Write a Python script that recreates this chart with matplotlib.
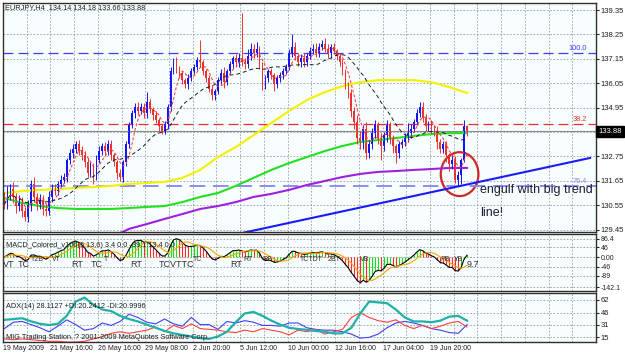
import numpy as np
import pandas as pd
import matplotlib
matplotlib.use('Agg')
import matplotlib.pyplot as plt
import matplotlib.transforms as mtransforms
from matplotlib.patches import Ellipse

plt.rcParams['font.family'] = ['Liberation Sans', 'DejaVu Sans']

# EURJPY H4 closes, one per bar
closes = [
    130.6, 131.1, 131.3, 130.9, 130.5, 130.7, 130.3, 130.0,
    130.6, 131.5, 130.9, 130.6, 130.8, 130.4, 130.3, 130.9,
    131.3, 131.2, 131.5, 131.7, 131.8, 132.6, 132.9, 133.1,
    133.3, 133.0, 132.8, 132.5, 132.0, 132.3, 131.9, 132.6,
    133.0, 133.2, 133.0, 133.3, 132.8, 132.5, 132.0, 131.8,
    132.5, 133.3, 134.2, 134.7, 135.0, 134.8, 135.0, 134.7,
    135.2, 134.9, 134.6, 134.4, 134.1, 133.9, 134.2, 135.0,
    136.6, 137.0, 136.7, 136.5, 136.2, 136.0, 136.3, 136.6,
    136.8, 137.1, 137.0, 136.6, 136.3, 135.8, 135.5, 135.7,
    136.2, 136.5, 136.1, 136.6, 136.9, 137.2, 137.0, 137.2,
    137.0, 136.9, 137.3, 137.6, 137.4, 137.6, 136.9, 136.0,
    136.3, 136.6, 136.4, 136.0, 136.3, 136.4, 136.6, 136.8,
    137.4, 137.7, 137.3, 137.0, 137.2, 137.0, 137.3, 137.5,
    137.6, 137.4, 137.7, 137.8, 137.6, 137.4, 137.7, 137.5,
    137.3, 137.0, 136.6, 136.0, 135.6, 134.8, 134.3, 133.6,
    133.4, 134.0, 132.9, 133.3, 133.8, 134.2, 133.6, 133.2,
    133.7, 134.2, 133.6, 133.2, 132.9, 133.3, 133.4, 133.6,
    133.8, 134.0, 134.3, 134.7, 135.0, 134.5, 134.1, 134.2,
    134.0, 133.9, 133.4, 133.1, 133.3, 132.8, 132.4, 132.6,
    131.7, 131.9, 132.6, 134.14, 133.88]
first_open = 130.9

up_wick = [
    .25, .3, .2, .3, .2, .3, .2, .15,
    .2, .2, .3, .2, .25, .2, .2, .3,
    .2, .2, .15, .2, .2, .1, .2, .2,
    .15, .2, .2, .2, .2, .2, .15, .2,
    .2, .15, .2, .2, .2, .1, .1, .2,
    .1, .15, .1, .15, .15, .2, .15, .15,
    .45, .15, .1, .2, .1, .1, .15, .1,
    .2, .2, .25, .15, .1, .1, .15, .15,
    .1, .15, .9, .1, .1, .1, .15, .1,
    .15, .2, .3, .1, .15, .1, .15, .2,
    2.0, .2, .3, .25, .2, .3, .15, .1,
    .1, .1, .15, .1, .1, .15, .15, .1,
    .2, .55, .2, .1, .15, .2, .1, .2,
    .2, .25, .15, .2, .3, .2, .1, .15,
    .1, .1, .15, .1, .1, .2, .2, .3,
    .3, .15, .3, .2, .25, .2, .1, .2,
    .15, .2, .1, .1, .1, .15, .15, .2,
    .45, .2, .15, .2, .2, .2, .15, .15,
    .2, .15, .2, .15, .15, .15, .1, .2,
    .15, .2, .1, .26, .04]
down_wick = [
    .2, .2, .3, .25, .3, .2, .3, .15,
    .2, .3, .2, .25, .2, .3, .25, .2,
    .2, .2, .2, .15, .15, .2, .2, .2,
    .2, .2, .2, .25, .2, .2, .4, .2,
    .15, .2, .2, .2, .2, .2, .25, .15,
    .2, .2, .15, .15, .2, .2, .15, .2,
    .2, .2, .2, .15, .2, .15, .15, .2,
    .2, .15, .2, .2, .2, .15, .2, .15,
    .15, .15, .2, .2, .2, .15, .2, .2,
    .15, .2, .25, .15, .15, .15, .15, .2,
    .15, .2, .15, .2, .2, .15, .2, .25,
    .2, .2, .15, .3, .15, .2, .15, .15,
    .15, .15, .2, .15, .2, .2, .15, .15,
    .15, .15, .15, .15, .15, .2, .2, .15,
    .2, .15, .2, .2, .2, .25, .3, .3,
    .3, .3, .25, .2, .2, .2, .3, .6,
    .2, .3, .3, .3, .45, .2, .15, .2,
    .2, .2, .15, .15, .15, .2, .2, .2,
    .2, .25, .3, .2, .2, .3, .3, .2,
    .15, .3, .4, .1, .22]

# slow moving averages, read every 6 bars
yellow_ma = [131.10, 131.19, 131.24, 131.28, 131.33, 131.37, 131.42, 131.51, 131.55,
             131.60, 131.78, 132.14, 132.72, 133.17, 133.71, 134.26, 134.80, 135.29,
             135.65, 135.92, 136.10, 136.19, 136.19, 136.19, 136.10, 135.88, 135.61]
green_ma = [130.87, 130.65, 130.51, 130.42, 130.38, 130.38, 130.38, 130.42, 130.47,
            130.51, 130.69, 130.92, 131.10, 131.42, 131.78, 132.14, 132.45, 132.72,
            132.99, 133.22, 133.40, 133.49, 133.58, 133.67, 133.76, 133.80, 133.80]
# purple starts at bar 36
purple_ma = [129.10, 129.48, 129.70, 129.93, 130.15, 130.38, 130.51, 130.69, 130.92,
             131.06, 131.24, 131.46, 131.64, 131.82, 131.96, 132.05, 132.09, 132.14,
             132.18, 132.23, 132.23]

# ADX(14), read every 3 bars
adx = [37, 38, 39, 35, 32, 30.5, 32, 42, 60, 65, 56, 50, 48, 42, 38, 35, 31, 27,
       23, 20, 18, 16, 14, 13, 16, 22, 34, 45, 47, 42, 36, 31, 27, 25.5, 24.5, 23,
       22, 20, 20, 27, 45, 60, 59, 58, 50, 40, 35, 35, 34, 36, 41, 42, 36]
plus_di = [26, 34, 35, 31, 27, 22, 29, 37, 31, 24, 26, 33, 30, 35, 44, 40, 34, 32,
           38, 32, 29, 40, 31, 31, 25, 35, 33, 36, 34, 30, 30, 29, 33, 33, 27, 25,
           24, 24, 22, 19, 14, 15, 19, 27, 33, 35, 33, 30, 26, 24, 21, 20, 31]
minus_di = [13, 12, 13, 12, 11, 10, 10, 9, 9, 10, 13, 16, 20, 22, 20, 22, 24, 28,
            22, 30, 26, 32, 26, 25, 24, 22, 21, 24, 22, 26, 24, 22, 18, 24, 22, 25,
            19, 22, 25, 40, 46, 40, 36, 34, 37, 30, 26, 30, 26, 29, 33, 35, 28]

fib_prices = [137.41, 134.21, 131.42]
fib_names = ['100.0', '38.2', '76.4']
trend_bars = [80, 197.5]
trend_prices = [129.29, 132.68]
last_price = 133.88

price_ticks = [139.35, 138.25, 137.15, 136.05, 134.95, 133.85, 132.75, 131.65, 130.55, 129.45]
macd_ticks = [86.4, 46, 0, -46, -89, -142.1]
macd_tick_labels = ['86.4', '46', '0.00', '-46', '-89', '-142.1']
adx_ticks = [62, 46, 31, 15]
time_labels = ['19 May 2009', '21 May 16:00', '26 May 16:00', '29 May 08:00', '2 Jun 20:00',
               '5 Jun 12:00', '10 Jun 00:00', '12 Jun 16:00', '17 Jun 04:00', '19 Jun 20:00']

W, H = 625, 356
fig = plt.figure(figsize=(W / 100, H / 100), dpi=100)
fig.patch.set_facecolor('white')

def box(top, bottom):
    return [3 / W, 1 - bottom / H, 593 / W, (bottom - top) / H]

ax1 = fig.add_axes(box(3, 232))
ax2 = fig.add_axes(box(234, 291))
ax3 = fig.add_axes(box(293, 342))

n = len(closes)
idx = np.arange(n)
c = np.array(closes)
o = np.r_[first_open, c[:-1]]
hi = np.maximum(o, c) + np.array(up_wick)
lo = np.minimum(o, c) - np.array(down_wick)
bull = c >= o
blue, red = '#1414ff', '#ee3030'
cols = np.where(bull, blue, red)

vgrid = np.arange(7.5, 200, 8)
for ax in (ax1, ax2, ax3):
    ax.set_facecolor('#f8fdfd')
    ax.set_xlim(-0.5, 197.2)
    ax.set_xticks(vgrid)
    ax.tick_params(axis='x', length=0, labelbottom=False)
    ax.yaxis.tick_right()
    ax.tick_params(axis='y', labelsize=5.5, length=2, pad=1.5, colors='#202020')
    ax.grid(True, color='#9a9a9a', lw=0.6, ls=(0, (2, 2)))
    ax.set_axisbelow(True)
    for s in ax.spines.values():
        s.set_color('#303030')
        s.set_linewidth(1.0)

# ---- main price panel
ax1.set_ylim(129.34, 139.67)
ax1.set_yticks(price_ticks)
ax1.set_yticklabels(['' if t == 133.85 else f'{t:.2f}' for t in price_ticks])

for p, name, col, lw in zip(fib_prices, fib_names, ['#3c3cff', '#e83030', '#8c8cf0'], [0.9, 0.9, 1.4]):
    ax1.axhline(p, color=col, lw=lw, dashes=(8, 4))
    ax1.text(196.5, p + 0.05, name, color=col, fontsize=5.3, ha='right', va='bottom')
ax1.axhline(last_price, color='#8a8a8a', lw=0.8)

ax1.plot(np.arange(0, n, 6), yellow_ma, color='#f2f200', lw=1.5)
ax1.plot(np.arange(0, n, 6), green_ma, color='#22e022', lw=1.5)
ax1.plot(np.arange(36, n, 6), purple_ma, color='#a020e0', lw=1.5)
ax1.plot(trend_bars, trend_prices, color='#1a1aff', lw=1.5)

ax1.vlines(idx, lo, hi, colors=cols, lw=0.7)
body = np.maximum(np.abs(c - o), 0.04)
ax1.bar(idx, body, bottom=np.minimum(o, c), width=0.6, color=cols, lw=0)

fast = pd.Series(c).rolling(5, min_periods=1).mean()
slow = pd.Series(c).rolling(20, min_periods=1).mean()
ax1.plot(idx, fast, color='#ff3030', lw=0.7, dashes=(3, 2))
ax1.plot(idx, slow, color='#202020', lw=0.7, dashes=(4, 3))

ax1.add_patch(Ellipse((153.5, 131.95), 12.7, 1.98, fill=False, ec='#d02828', lw=1.6))
ax1.text(160.5, 131.24, 'engulf with big trend', fontsize=9, color='#1c1c3c', va='center', ha='left')
ax1.text(160.5, 130.20, 'line!', fontsize=9, color='#1c1c3c', va='center', ha='left')

tr = mtransforms.blended_transform_factory(ax1.transAxes, ax1.transData)
ax1.text(1.004, last_price, f'{last_price:.2f}', transform=tr, fontsize=5.5, color='white',
         ha='left', va='center', bbox=dict(boxstyle='square,pad=0.25', fc='black', ec='black'))
fig.text(5 / W, 1 - 8 / H, 'EURJPY,H4  134.14 134.18 133.66 133.88', fontsize=5.3,
         color='#202020', va='center')

# ---- MACD panel
ema5 = pd.Series(c).ewm(span=5, adjust=False).mean()
ema13 = pd.Series(c).ewm(span=13, adjust=False).mean()
macd = (ema5 - ema13) * 100
signal = macd.rolling(6, min_periods=1).mean()
rising = macd.diff().fillna(0) >= 0
ax2.set_ylim(-161, 110)
ax2.set_yticks(macd_ticks)
ax2.set_yticklabels(macd_tick_labels)
ax2.tick_params(axis='y', labelsize=5)
ax2.vlines(idx, 0, macd, colors=np.where(rising, '#10e010', '#ff2a2a'), lw=0.8)
ax2.plot(idx, macd, color='black', lw=0.8)
ax2.plot(idx, signal, color='#ffa500', lw=0.8)
ax2.text(0.005, 0.8, 'MACD_Colored_v106(5,13,6) 3.4 0.0 -39.1 13.4 0.0', transform=ax2.transAxes,
         fontsize=5.3, color='#202020', va='center')

marks = [(-0.5, 'VT', 1), (4.5, 'TC', 1), (9, 'T2B', 0), (16, 'VT', 0), (22.5, 'RT', 1),
         (29, 'TC', 1), (33.5, 'T', 0), (42.5, 'RT', 1), (52, 'TCVTTC', 1), (63.5, 'TC', 0),
         (76, 'RT', 1), (80.5, 'RT', 0), (87, 'RB', 0), (99.5, 'TCTDT', 0), (109, '2BT', 0),
         (120, 'VB', 0), (147, 'PB', 0), (151.5, 'YB', 0), (156, '9.7', 1)]
for x, t, big in marks:
    ax2.text(x, -33 if big else -12, t, fontsize=6.5 if big else 5, color='#303030',
             ha='left', va='center')

# ---- ADX panel
xs = np.arange(0, n, 3)
ax3.set_ylim(9.1, 70.8)
ax3.set_yticks(adx_ticks)
ax3.plot(xs, plus_di, color='#4040ff', lw=0.8)
ax3.plot(xs, minus_di, color='#ff4040', lw=0.8)
ax3.plot(xs, adx, color='#20b0a8', lw=1.6)
ax3.text(0.005, 0.72, 'ADX(14) 28.1127 +DI:20.2412 -DI:20.9996', transform=ax3.transAxes,
         fontsize=5.3, color='#202020', va='center')
ax3.text(0.005, 0.1, 'MIG Trading Station, ? 2001-2009 MetaQuotes Software Corp.',
         transform=ax3.transAxes, fontsize=5.3, color='#202020', va='center')

tx = mtransforms.blended_transform_factory(ax3.transData, ax3.transAxes)
for k, lab in enumerate(time_labels):
    xb = -0.5 if k == 0 else 15.5 + 16 * (k - 1)
    ax3.text(xb, -0.07, lab, transform=tx, fontsize=5, color='#202020', ha='left', va='top')

fig.savefig('out.png', dpi=100)
